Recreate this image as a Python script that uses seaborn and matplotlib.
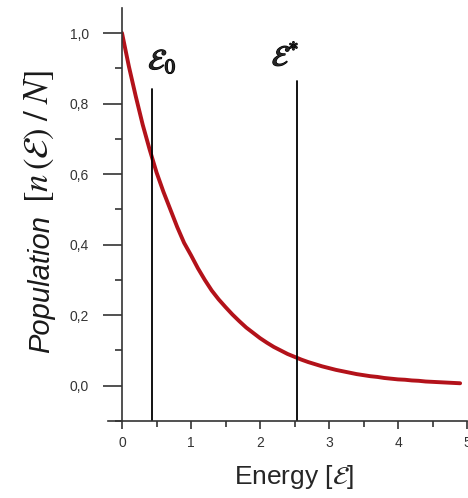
import numpy as np
import pandas as pd
import seaborn as sns
import matplotlib.pyplot as plt
import matplotlib.patheffects as pe
from matplotlib.ticker import MultipleLocator, FuncFormatter

# Curve
energy = [0.0, 0.1, 0.2, 0.3, 0.4, 0.5, 0.6, 0.7, 0.8, 0.9,
          1.0, 1.1, 1.2, 1.3, 1.4, 1.5, 1.6, 1.7, 1.8, 1.9,
          2.0, 2.1, 2.2, 2.3, 2.4, 2.5, 2.6, 2.7, 2.8, 2.9,
          3.0, 3.1, 3.2, 3.3, 3.4, 3.5, 3.6, 3.7, 3.8, 3.9,
          4.0, 4.1, 4.2, 4.3, 4.4, 4.5, 4.6, 4.7, 4.8, 4.9]
population = [1.00, 0.905, 0.82, 0.74, 0.67, 0.605, 0.55, 0.50, 0.45, 0.405,
              0.37, 0.333, 0.30, 0.27, 0.245, 0.223, 0.202, 0.183, 0.165, 0.15,
              0.135, 0.122, 0.11, 0.10, 0.09, 0.082, 0.074, 0.067, 0.061, 0.055,
              0.05, 0.045, 0.041, 0.037, 0.033, 0.030, 0.027, 0.025, 0.022, 0.020,
              0.018, 0.017, 0.015, 0.014, 0.012, 0.011, 0.010, 0.009, 0.008, 0.007]

# marker lines
marker_x = [0.44, 2.53]
marker_top = [0.84, 0.865]
marker_labels = [r"$\mathcal{E}_0$", r"$\mathcal{E}^{*}$"]

df = pd.DataFrame({"energy": energy, "population": population})

sns.set_style("ticks")
plt.rcParams["font.family"] = ["Liberation Sans", "DejaVu Sans"]
plt.rcParams["mathtext.fontset"] = "stix"

fig = plt.figure(figsize=(4.68, 4.98), dpi=100)
ax = fig.add_axes([0.2607, 0.1546, 0.7372, 0.8294])

sns.lineplot(data=df, x="energy", y="population", color="#b3121a", linewidth=2.8, ax=ax)

bold = [pe.withStroke(linewidth=0.9, foreground="black")]
for xv, top, lab, dx, dy in zip(marker_x, marker_top, marker_labels, [-0.06, -0.36], [0.04, 0.025]):
    ax.plot([xv, xv], [-0.1, top], color="black", linewidth=1.3)
    t = ax.text(xv + dx, top + dy, lab, fontsize=21, ha="left", va="bottom")
    t.set_path_effects(bold)

ax.set_xlim(0, 5)
ax.set_ylim(-0.1, 1.071)

ax.xaxis.set_major_locator(MultipleLocator(1))
ax.xaxis.set_minor_locator(MultipleLocator(0.5))
ax.yaxis.set_major_locator(MultipleLocator(0.2))
ax.yaxis.set_minor_locator(MultipleLocator(0.1))
ax.yaxis.set_major_formatter(FuncFormatter(lambda v, p: f"{v:.1f}".replace(".", ",").replace("-0,0", "0,0")))
ax.xaxis.set_major_formatter(FuncFormatter(lambda v, p: f"{v:.0f}"))

ax.tick_params(axis="y", which="major", direction="out", length=14, width=1.2,
               labelsize=10, labelcolor="#555555", pad=10)
ax.tick_params(axis="y", which="minor", direction="out", length=5, width=1.2)
ax.tick_params(axis="x", which="major", direction="out", length=6, width=1.2,
               labelsize=10, labelcolor="#555555", pad=5)
ax.tick_params(axis="x", which="minor", direction="out", length=4, width=1.2)
ax.tick_params(colors="#333333", which="both")

for s in ["top", "right"]:
    ax.spines[s].set_visible(False)
for s in ["left", "bottom"]:
    ax.spines[s].set_color("#333333")
    ax.spines[s].set_linewidth(1.2)
ax.spines["bottom"].set_bounds(-0.2, 5)

ax.set_xlabel(r"Energy [$\mathcal{E}$]", fontsize=19, labelpad=9)
ax.set_ylabel("")

# y label: sans italic word + serif math part
fig.text(41 / 468, 1 - 284 / 498, "Population", fontsize=21, fontstyle="italic",
         rotation=90, ha="center", va="center", color="#1a1a1a")
fig.text(39 / 468, 1 - 137 / 498, r"$[n\,(\mathcal{E})\;/\;N]$", fontsize=25,
         rotation=90, ha="center", va="center", color="#1a1a1a")

fig.savefig("out.png", dpi=100)
